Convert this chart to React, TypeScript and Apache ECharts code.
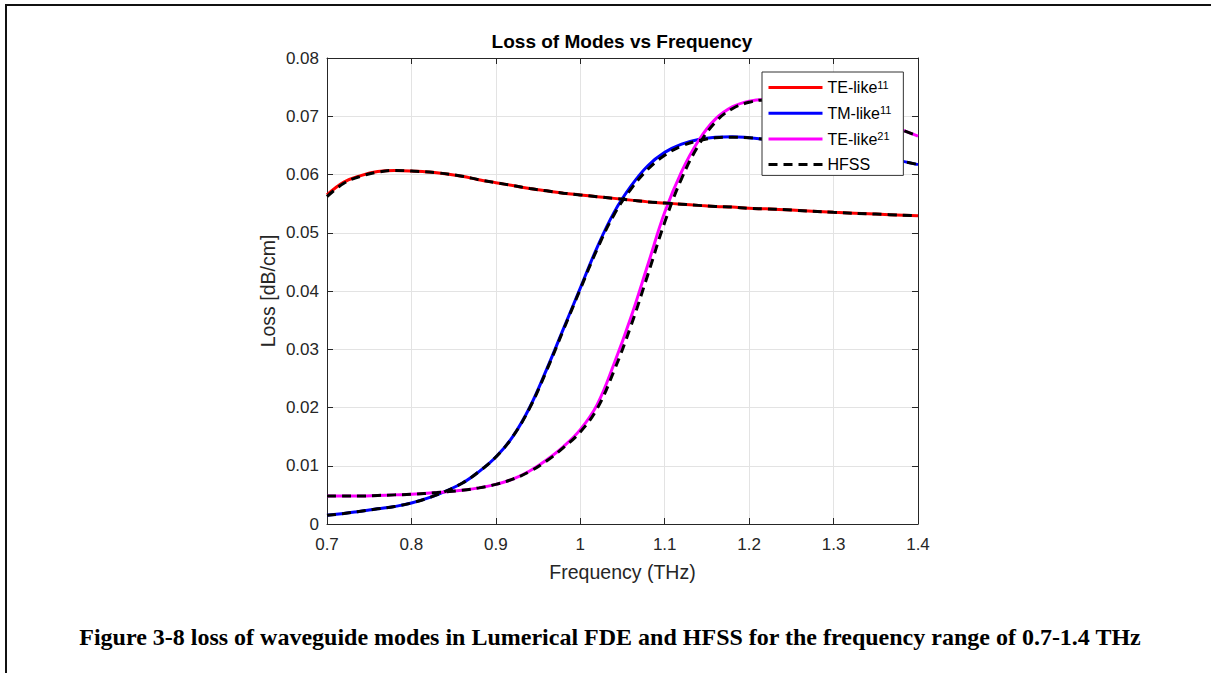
import React, { useEffect, useRef } from 'react';
import * as echarts from 'echarts';

const freq = [0.70, 0.72, 0.74, 0.76, 0.78, 0.80, 0.83, 0.86, 0.88, 0.90, 0.92, 0.94, 0.96, 0.98, 1.00, 1.02, 1.04, 1.06, 1.08, 1.10, 1.12, 1.14, 1.16, 1.18, 1.20, 1.22, 1.25, 1.30, 1.35, 1.40];

const teLike11 = [0.0565, 0.0587, 0.0598, 0.0605, 0.0607, 0.0606, 0.0603, 0.0597, 0.0591, 0.0586, 0.0581, 0.0576, 0.0572, 0.0568, 0.0565, 0.0562, 0.0559, 0.0556, 0.0553, 0.0551, 0.0549, 0.0547, 0.0545, 0.0544, 0.0542, 0.0541, 0.0539, 0.0535, 0.0532, 0.0529];
const tmLike11 = [0.0015, 0.0018, 0.0022, 0.0026, 0.0030, 0.0036, 0.0050, 0.0070, 0.0090, 0.0115, 0.0150, 0.0200, 0.0265, 0.0335, 0.0405, 0.0475, 0.0535, 0.0580, 0.0615, 0.0638, 0.0652, 0.0660, 0.0664, 0.0665, 0.0663, 0.0660, 0.0654, 0.0644, 0.0632, 0.0617];
const teLike21 = [0.0048, 0.0048, 0.0048, 0.0049, 0.0050, 0.0051, 0.0054, 0.0058, 0.0062, 0.0068, 0.0077, 0.0091, 0.0110, 0.0133, 0.0162, 0.0205, 0.0275, 0.0355, 0.0445, 0.0535, 0.0605, 0.0658, 0.0695, 0.0716, 0.0726, 0.0729, 0.0726, 0.0712, 0.0692, 0.0666];

const hfssTe11 = [0.0562, 0.0585, 0.0597, 0.0604, 0.0607, 0.0606, 0.0603, 0.0597, 0.0591, 0.0586, 0.0581, 0.0576, 0.0572, 0.0568, 0.0565, 0.0562, 0.0559, 0.0556, 0.0553, 0.0551, 0.0549, 0.0547, 0.0545, 0.0544, 0.0542, 0.0541, 0.0539, 0.0535, 0.0532, 0.0529];
const hfssTm11 = [0.0015, 0.0018, 0.0022, 0.0026, 0.0030, 0.0036, 0.0050, 0.0070, 0.0090, 0.0115, 0.0150, 0.0199, 0.0263, 0.0333, 0.0403, 0.0472, 0.0531, 0.0575, 0.0609, 0.0633, 0.0649, 0.0658, 0.0663, 0.0664, 0.0663, 0.0660, 0.0654, 0.0644, 0.0632, 0.0617];
const hfssTe21 = [0.0048, 0.0048, 0.0048, 0.0049, 0.0050, 0.0051, 0.0054, 0.0058, 0.0062, 0.0068, 0.0077, 0.0090, 0.0108, 0.0131, 0.0158, 0.0198, 0.0263, 0.0340, 0.0428, 0.0518, 0.0593, 0.0650, 0.0690, 0.0713, 0.0724, 0.0728, 0.0726, 0.0712, 0.0692, 0.0666];

const legendNames = ['TE-like11', 'TM-like11', 'TE-like21', 'HFSS'];
const xTicks = { min: 0.7, max: 1.4, interval: 0.1 };
const yTicks = { min: 0, max: 0.08, interval: 0.01 };

const pair = (ys: number[]) => freq.map((f, i) => [f, ys[i]]);

export default function App() {
  const ref = useRef<HTMLDivElement>(null);
  useEffect(() => {
    const chart = echarts.init(ref.current!, null, { renderer: 'svg' });
    const axisColor = '#262626';
    const font = 'Liberation Sans, Arial, Helvetica, sans-serif';
    const baseX = {
      type: 'value' as const,
      min: xTicks.min,
      max: xTicks.max,
      interval: xTicks.interval,
      axisLine: { show: true, onZero: false, lineStyle: { color: axisColor, width: 1 } },
      axisTick: { show: true, inside: true, length: 6, lineStyle: { color: axisColor } },
    };
    const baseY = {
      type: 'value' as const,
      min: yTicks.min,
      max: yTicks.max,
      interval: yTicks.interval,
      axisLine: { show: true, onZero: false, lineStyle: { color: axisColor, width: 1 } },
      axisTick: { show: true, inside: true, length: 6, lineStyle: { color: axisColor } },
    };
    const colored = (name: string, data: number[], color: string) => ({
      name,
      type: 'line',
      data: pair(data),
      showSymbol: false,
      symbol: 'none',
      smooth: 0.4,
      lineStyle: { color, width: 3 },
      itemStyle: { color },
      z: 2,
    });
    const dashed = (data: number[]) => ({
      name: 'HFSS',
      type: 'line',
      data: pair(data),
      showSymbol: false,
      symbol: 'none',
      smooth: 0.4,
      lineStyle: { color: '#000', width: 3, type: [9, 6] },
      itemStyle: { color: '#000' },
      z: 3,
    });
    chart.setOption({
      animation: false,
      backgroundColor: '#ffffff',
      title: {
        text: 'Loss of Modes vs Frequency',
        left: 622,
        top: 32,
        textAlign: 'center',
        padding: 0,
        textStyle: { fontSize: 19, fontWeight: 'bold', color: '#000', fontFamily: font },
      },
      grid: { left: 327, top: 58, width: 591, height: 466, containLabel: false },
      xAxis: [
        {
          ...baseX,
          position: 'bottom',
          name: 'Frequency (THz)',
          nameLocation: 'middle',
          nameGap: 38,
          nameTextStyle: { fontSize: 19.5, color: axisColor, fontFamily: font },
          axisLabel: { fontSize: 17, color: axisColor, fontFamily: font, margin: 12 },
          splitLine: { show: true, lineStyle: { color: '#e3e3e3', width: 1 } },
        },
        {
          ...baseX,
          position: 'top',
          axisLabel: { show: false },
          splitLine: { show: false },
        },
      ],
      yAxis: [
        {
          ...baseY,
          position: 'left',
          name: 'Loss [dB/cm]',
          nameLocation: 'middle',
          nameGap: 49,
          nameTextStyle: { fontSize: 19.5, color: axisColor, fontFamily: font },
          axisLabel: { fontSize: 17, color: axisColor, fontFamily: font, margin: 8 },
          splitLine: { show: true, lineStyle: { color: '#e3e3e3', width: 1 } },
        },
        {
          ...baseY,
          position: 'right',
          axisLabel: { show: false },
          splitLine: { show: false },
        },
      ],
      legend: {
        orient: 'vertical',
        left: 762,
        top: 72,
        data: legendNames,
        selectedMode: false,
        backgroundColor: '#ffffff',
        borderColor: '#333333',
        borderWidth: 1,
        padding: [7, 12, 3, 5],
        itemWidth: 54,
        itemHeight: 14,
        itemGap: 9.3,
        itemStyle: { opacity: 0 },
        lineStyle: { width: 3 },
        formatter: (name: string) => {
          const m = name.match(/^(.*?)(\d+)$/);
          return m ? `{n|${m[1]}}{s|${m[2]}}` : `{n|${name}}`;
        },
        textStyle: {
          color: '#000',
          fontFamily: font,
          fontSize: 16,
          rich: {
            n: { fontSize: 16, fontFamily: font, color: '#000', lineHeight: 17 },
            s: { fontSize: 11, fontFamily: font, color: '#000', verticalAlign: 'top', lineHeight: 17 },
          },
        },
      },
      graphic: [
        { type: 'line', shape: { x1: 5, y1: 5, x2: 1211, y2: 5 }, style: { stroke: '#111', lineWidth: 2 } },
        { type: 'line', shape: { x1: 6, y1: 4, x2: 6, y2: 673 }, style: { stroke: '#111', lineWidth: 2 } },
        {
          type: 'text',
          x: 610,
          y: 637,
          style: {
            text: 'Figure 3-8 loss of waveguide modes in Lumerical FDE and HFSS for the frequency range of 0.7-1.4 THz',
            font: 'bold 24px "Liberation Serif", "Times New Roman", serif',
            fill: '#000',
            textAlign: 'center',
            textVerticalAlign: 'middle',
          },
        },
      ],
      series: [
        colored(legendNames[0], teLike11, '#ff0000'),
        colored(legendNames[1], tmLike11, '#0000ff'),
        colored(legendNames[2], teLike21, '#ff00ff'),
        dashed(hfssTe11),
        dashed(hfssTm11),
        dashed(hfssTe21),
      ],
    });
    return () => chart.dispose();
  }, []);
  return (
    <div
      ref={ref}
      style={{ position: 'fixed', left: 0, top: 0, width: 1211, height: 673, background: '#fff' }}
    />
  );
}
